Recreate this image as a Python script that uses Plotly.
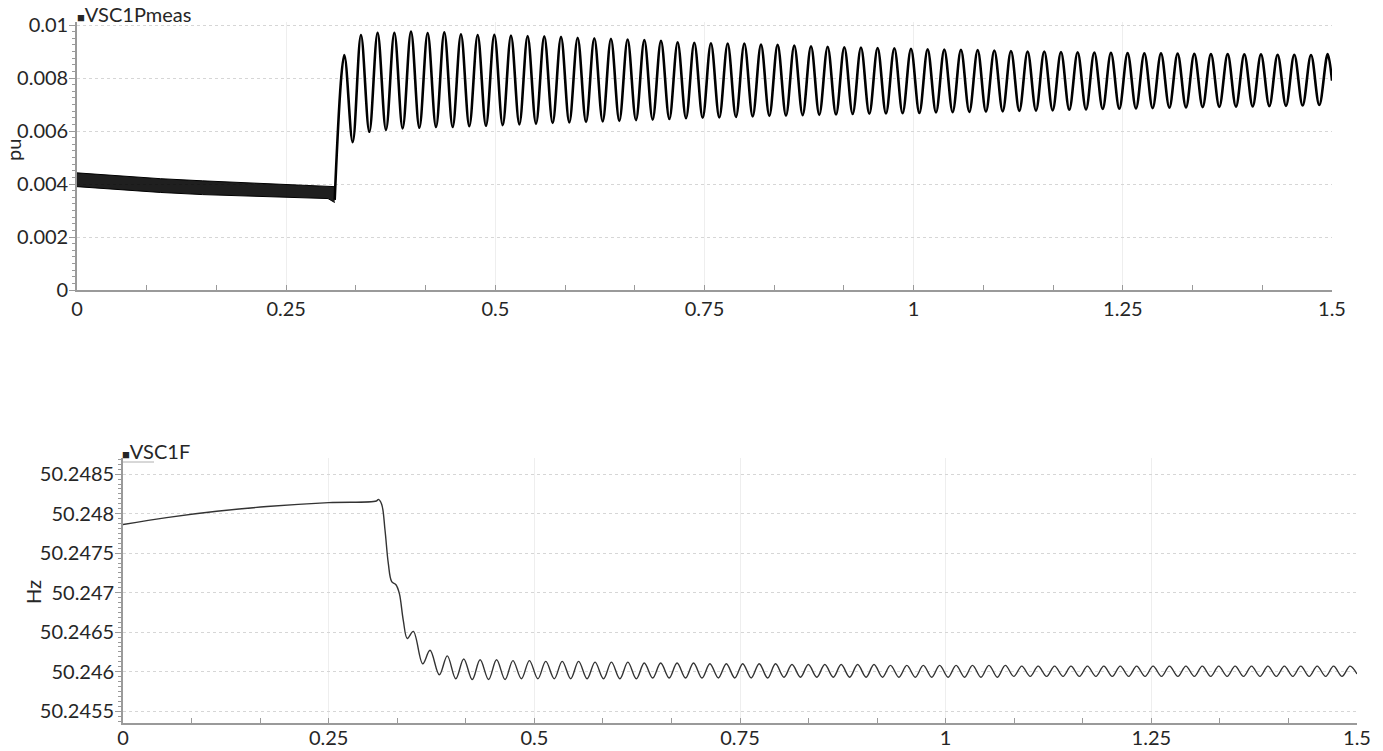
import plotly.graph_objects as go

# ---------------- Top panel: VSC1Pmeas (pu) ----------------
# Pre-disturbance fast ripple band (envelope)
band_t = [0.0, 0.05, 0.10, 0.15, 0.20, 0.25, 0.30, 0.308]
band_hi = [0.00442, 0.00430, 0.00420, 0.00412, 0.00405, 0.00398, 0.00393, 0.00390]
band_lo = [0.00390, 0.00378, 0.00368, 0.00360, 0.00355, 0.00350, 0.00345, 0.00330]

# Post-disturbance 50 Hz oscillation: peak / trough instants and values
p_start_t = [0.308]
p_start_v = [0.00340]
p_peak_t = [0.3195, 0.3394, 0.3593, 0.3793, 0.3992, 0.4191, 0.4390, 0.4589, 0.4789, 0.4988,
            0.5187, 0.5386, 0.5585, 0.5785, 0.5984, 0.6183, 0.6382, 0.6581, 0.6781, 0.6980,
            0.7179, 0.7378, 0.7577, 0.7777, 0.7976, 0.8175, 0.8374, 0.8573, 0.8773, 0.8972,
            0.9171, 0.9370, 0.9569, 0.9769, 0.9968, 1.0167, 1.0366, 1.0565, 1.0765, 1.0964,
            1.1163, 1.1362, 1.1561, 1.1761, 1.1960, 1.2159, 1.2358, 1.2557, 1.2757, 1.2956,
            1.3155, 1.3354, 1.3553, 1.3753, 1.3952, 1.4151, 1.4350, 1.4549, 1.4749, 1.4948]
p_peak_v = [0.00887, 0.00962, 0.00971, 0.00971, 0.00975, 0.00970, 0.00972, 0.00965, 0.00962, 0.00963,
            0.00960, 0.00958, 0.00957, 0.00955, 0.00952, 0.00950, 0.00948, 0.00945, 0.00943, 0.00940,
            0.00935, 0.00933, 0.00931, 0.00930, 0.00930, 0.00926, 0.00925, 0.00922, 0.00920, 0.00918,
            0.00916, 0.00915, 0.00913, 0.00912, 0.00910, 0.00908, 0.00907, 0.00906, 0.00905, 0.00904,
            0.00902, 0.00900, 0.00900, 0.00898, 0.00897, 0.00896, 0.00895, 0.00894, 0.00893, 0.00893,
            0.00892, 0.00891, 0.00890, 0.00890, 0.00889, 0.00889, 0.00888, 0.00888, 0.00887, 0.00890]
p_trough_t = [0.3295, 0.3494, 0.3693, 0.3892, 0.4092, 0.4291, 0.4490, 0.4689, 0.4888, 0.5088,
              0.5287, 0.5486, 0.5685, 0.5884, 0.6084, 0.6283, 0.6482, 0.6681, 0.6880, 0.7080,
              0.7279, 0.7478, 0.7677, 0.7876, 0.8076, 0.8275, 0.8474, 0.8673, 0.8872, 0.9072,
              0.9271, 0.9470, 0.9669, 0.9868, 1.0068, 1.0267, 1.0466, 1.0665, 1.0864, 1.1064,
              1.1263, 1.1462, 1.1661, 1.1860, 1.2060, 1.2259, 1.2458, 1.2657, 1.2856, 1.3056,
              1.3255, 1.3454, 1.3653, 1.3852, 1.4052, 1.4251, 1.4450, 1.4649, 1.4848]
p_trough_v = [0.00558, 0.00597, 0.00604, 0.00610, 0.00612, 0.00615, 0.00615, 0.00618, 0.00620, 0.00622,
              0.00625, 0.00627, 0.00630, 0.00632, 0.00634, 0.00636, 0.00638, 0.00641, 0.00643, 0.00645,
              0.00648, 0.00650, 0.00651, 0.00653, 0.00655, 0.00657, 0.00658, 0.00660, 0.00661, 0.00662,
              0.00664, 0.00665, 0.00666, 0.00667, 0.00668, 0.00670, 0.00671, 0.00672, 0.00673, 0.00674,
              0.00676, 0.00677, 0.00678, 0.00680, 0.00681, 0.00683, 0.00684, 0.00685, 0.00686, 0.00688,
              0.00689, 0.00690, 0.00691, 0.00692, 0.00693, 0.00694, 0.00695, 0.00696, 0.00698]
p_end_t = [1.5]
p_end_v = [0.00790]

# ---------------- Bottom panel: VSC1F (Hz) ----------------
f_pre_t = [0.0, 0.053, 0.114, 0.175, 0.25, 0.308, 0.3104, 0.3144, 0.3185, 0.3225, 0.3266,
           0.3318, 0.3359, 0.3407, 0.3456, 0.3529, 0.3643, 0.3732, 0.3845]
f_pre_v = [50.247863, 50.24795, 50.24803, 50.24809, 50.24814, 50.24816, 50.24818, 50.24812,
           50.24779, 50.24737, 50.24714, 50.24710, 50.24699, 50.24665, 50.24642, 50.24651,
           50.24610, 50.24627, 50.24596]
f_peak_t = [0.3942, 0.4142, 0.4341, 0.4541, 0.4740, 0.4940, 0.5139, 0.5339, 0.5538, 0.5738,
            0.5937, 0.6137, 0.6336, 0.6536, 0.6735, 0.6935, 0.7134, 0.7334, 0.7533, 0.7733,
            0.7932, 0.8132, 0.8331, 0.8531, 0.8730, 0.8930, 0.9129, 0.9329, 0.9528, 0.9728,
            0.9927, 1.0127, 1.0326, 1.0526, 1.0725, 1.0925, 1.1124, 1.1324, 1.1523, 1.1723,
            1.1922, 1.2122, 1.2321, 1.2521, 1.2720, 1.2920, 1.3119, 1.3319, 1.3518, 1.3718,
            1.3917, 1.4117, 1.4316, 1.4516, 1.4715, 1.4915]
f_peak_v = [50.24620, 50.24616, 50.24615, 50.24615, 50.24614, 50.24614, 50.24613, 50.24613, 50.24613, 50.24612,
            50.24612, 50.24612, 50.24611, 50.24611, 50.24611, 50.24611, 50.24610, 50.24610, 50.24610, 50.24610,
            50.24610, 50.24609, 50.24609, 50.24609, 50.24609, 50.24609, 50.24609, 50.24608, 50.24608, 50.24608,
            50.24608, 50.24608, 50.24608, 50.24608, 50.24608, 50.24607, 50.24607, 50.24607, 50.24607, 50.24607,
            50.24607, 50.24607, 50.24607, 50.24607, 50.24607, 50.24607, 50.24607, 50.24607, 50.24607, 50.24607,
            50.24607, 50.24607, 50.24607, 50.24607, 50.24607, 50.24607]
f_trough_t = [0.4045, 0.4245, 0.4444, 0.4644, 0.4843, 0.5043, 0.5242, 0.5442, 0.5641, 0.5841,
              0.6040, 0.6240, 0.6439, 0.6639, 0.6838, 0.7038, 0.7237, 0.7437, 0.7636, 0.7836,
              0.8035, 0.8235, 0.8434, 0.8634, 0.8833, 0.9033, 0.9232, 0.9432, 0.9631, 0.9831,
              1.0030, 1.0230, 1.0429, 1.0629, 1.0828, 1.1028, 1.1227, 1.1427, 1.1626, 1.1826,
              1.2025, 1.2225, 1.2424, 1.2624, 1.2823, 1.3023, 1.3222, 1.3422, 1.3621, 1.3821,
              1.4020, 1.4220, 1.4419, 1.4619, 1.4818]
f_trough_v = [50.24591, 50.24590, 50.24590, 50.24590, 50.24591, 50.24591, 50.24591, 50.24591, 50.24591, 50.24591,
              50.24591, 50.24591, 50.24592, 50.24592, 50.24592, 50.24592, 50.24592, 50.24592, 50.24592, 50.24592,
              50.24593, 50.24593, 50.24593, 50.24593, 50.24593, 50.24593, 50.24593, 50.24593, 50.24593, 50.24593,
              50.24593, 50.24593, 50.24593, 50.24593, 50.24594, 50.24594, 50.24594, 50.24594, 50.24594, 50.24594,
              50.24594, 50.24594, 50.24594, 50.24594, 50.24594, 50.24594, 50.24594, 50.24594, 50.24594, 50.24594,
              50.24594, 50.24594, 50.24594, 50.24594, 50.24594]
f_end_t = [1.5]
f_end_v = [50.24597]

# Tick labels
x_tickvals = [0, 0.25, 0.5, 0.75, 1, 1.25, 1.5]
x_ticktext = ["0", "0.25", "0.5", "0.75", "1", "1.25", "1.5"]
p_tickvals = [0, 0.002, 0.004, 0.006, 0.008, 0.01]
p_ticktext = ["0", "0.002", "0.004", "0.006", "0.008", "0.01"]
f_tickvals = [50.2455, 50.246, 50.2465, 50.247, 50.2475, 50.248, 50.2485]
f_ticktext = ["50.2455", "50.246", "50.2465", "50.247", "50.2475", "50.248", "50.2485"]


def interleave(pt, pv, tt, tv):
    ts, vs = [], []
    for i in range(len(pt)):
        ts.append(pt[i]); vs.append(pv[i])
        if i < len(tt):
            ts.append(tt[i]); vs.append(tv[i])
    return ts, vs


pt_all, pv_all = interleave(p_peak_t, p_peak_v, p_trough_t, p_trough_v)
p_t = p_start_t + pt_all + p_end_t
p_v = p_start_v + pv_all + p_end_v

ft_all, fv_all = interleave(f_peak_t, f_peak_v, f_trough_t, f_trough_v)
f_t = f_pre_t + ft_all + f_end_t
f_v = f_pre_v + fv_all + f_end_v

W, H = 1383, 751
FONT = "Lato"
TXT = "#262626"
AX = "#9a9a9a"
FS = 20

fig = go.Figure()
fig.add_trace(go.Scatter(x=band_t, y=band_lo, mode="lines", line=dict(color="black", width=1),
                         xaxis="x", yaxis="y", showlegend=False, hoverinfo="skip"))
fig.add_trace(go.Scatter(x=band_t, y=band_hi, mode="lines", line=dict(color="black", width=1),
                         fill="tonexty", fillcolor="rgba(0,0,0,0.88)",
                         xaxis="x", yaxis="y", showlegend=False, hoverinfo="skip"))
fig.add_trace(go.Scatter(x=p_t, y=p_v, mode="lines", line=dict(color="black", width=2.6, shape="spline", smoothing=1.0),
                         xaxis="x", yaxis="y", showlegend=False, name="VSC1Pmeas"))
fig.add_trace(go.Scatter(x=f_t, y=f_v, mode="lines", line=dict(color="#333333", width=1.4, shape="spline", smoothing=1.0),
                         xaxis="x2", yaxis="y2", showlegend=False, name="VSC1F"))

def px_x(p):
    return p / W

def px_y(p):
    return 1 - p / H

common_x = dict(range=[0, 1.5], tickmode="array", tickvals=x_tickvals, ticktext=x_ticktext,
                ticks="inside", ticklen=5, tickcolor=AX, tickwidth=1.2, automargin=False,
                showline=True, linecolor=AX, linewidth=1.6,
                showgrid=True, gridcolor="#eeeeee", gridwidth=1, zeroline=False,
                tickfont=dict(family=FONT, size=FS, color=TXT),
                minor=dict(dtick=1/12, tick0=0, ticks="inside", ticklen=5, tickcolor=AX, showgrid=False))
common_y = dict(tickmode="array", ticks="outside", ticklen=6, tickcolor=AX, tickwidth=1.2, automargin=False,
                showline=True, linecolor=AX, linewidth=1.6, ticklabelstandoff=-3,
                showgrid=True, gridcolor="#d6d6d6", griddash="dot", gridwidth=1, zeroline=False,
                tickfont=dict(family=FONT, size=FS, color=TXT))

fig.update_layout(
    width=W, height=H, margin=dict(l=0, r=0, t=0, b=0),
    paper_bgcolor="white", plot_bgcolor="white",
    xaxis=dict(common_x, domain=[px_x(77), px_x(1332)], anchor="y"),
    yaxis=dict(common_y, domain=[px_y(290), px_y(22.35)], anchor="x", range=[0, 0.0101],
               tickvals=p_tickvals, ticktext=p_ticktext,
               minor=dict(dtick=0.00025, tick0=0, ticks="outside", ticklen=3, tickcolor=AX, showgrid=False)),
    xaxis2=dict(common_x, domain=[px_x(123), px_x(1357)], anchor="y2", ticklabelstandoff=-4),
    yaxis2=dict(common_y, domain=[px_y(723), px_y(458.35)], anchor="x2", range=[50.24535, 50.2487],
                tickvals=f_tickvals, ticktext=f_ticktext,
                minor=dict(dtick=0.0000625, tick0=50.2455, ticks="outside", ticklen=3, tickcolor=AX, showgrid=False)),
    annotations=[
        dict(xref="paper", yref="paper", x=px_x(75), y=px_y(14), xanchor="left", yanchor="middle",
             text="<span style='font-size:13px'>■</span>VSC1Pmeas", showarrow=False,
             font=dict(family=FONT, size=FS, color=TXT)),
        dict(xref="paper", yref="paper", x=px_x(120), y=px_y(451), xanchor="left", yanchor="middle",
             text="<span style='font-size:13px'>■</span>VSC1F", showarrow=False,
             font=dict(family=FONT, size=FS, color=TXT)),
        dict(xref="paper", yref="paper", x=px_x(13), y=px_y(150), xanchor="center", yanchor="middle",
             text="pu", textangle=-90, showarrow=False, font=dict(family=FONT, size=FS, color=TXT)),
        dict(xref="paper", yref="paper", x=px_x(33), y=px_y(592), xanchor="center", yanchor="middle",
             text="Hz", textangle=-90, showarrow=False, font=dict(family=FONT, size=FS, color=TXT)),
    ],
    shapes=[
        dict(type="line", xref="paper", yref="paper", x0=px_x(123), x1=px_x(154), y0=px_y(462), y1=px_y(462),
             line=dict(color="#b0b0b0", width=1)),
    ],
)

fig.write_html("out.html")
